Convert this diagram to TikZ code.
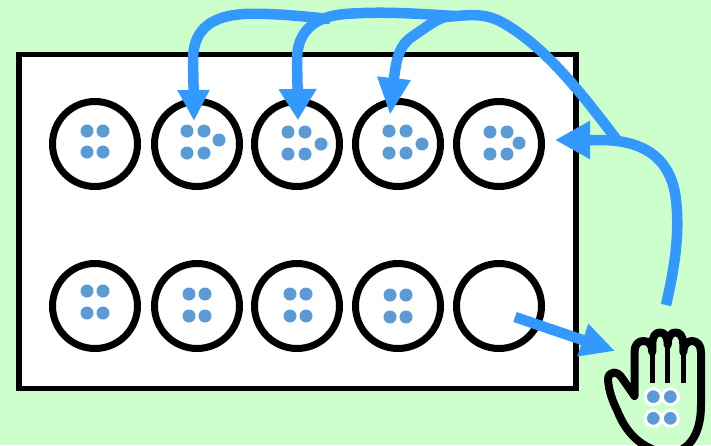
\documentclass[tikz,border=0pt]{standalone}
\usetikzlibrary{arrows.meta}
\definecolor{bggreen}{HTML}{CCFFCC}
\definecolor{flow}{HTML}{3399FF}
\definecolor{seed}{HTML}{5B9BD5}
\tikzset{
  pit/.style={circle,draw=black,fill=white,line width=7pt,inner sep=0pt,outer sep=0pt,minimum size=85pt},
  seedball/.style={circle,fill=seed,inner sep=0pt,outer sep=0pt,minimum size=13pt},
  handseed/.style={circle,fill=seed,draw=white,line width=3pt,inner sep=0pt,outer sep=0pt,minimum size=16pt},
  flowline/.style={draw=flow,line width=10.5pt},
  handline/.style={draw=black,line width=8pt,line join=round},
}
\begin{document}
\begin{tikzpicture}[x=1pt,y=-1pt]
\useasboundingbox (0,0) rectangle (711,445);
\fill[bggreen] (0,0) rectangle (711,445);
\node[draw=black,fill=white,line width=5.5pt,inner sep=0pt,outer sep=0pt,minimum width=557pt,minimum height=334pt] (board) at (297.5,221.5) {};
% pits
\foreach \n/\x in {1/95,2/197,3/297,4/398,5/499}{
  \node[pit] (t\n) at (\x,144) {};
  \node[pit] (b\n) at (\x,306) {};
}
% seeds, top row
\foreach \n/\x/\y in {a/87/131,b/103/131,c/87/152,d/103/152,
  e/187/131,f/204/131,g/187/153,h/204/153,i/219/140,
  j/288/132,k/305/132,l/288/154,m/305/154,o/321/144,
  p/389/131,q/406/131,r/389/153,s/406/153,u/422/144,
  v/490/132,w/507/132,x/490/154,y/507/154,z/519/143}{
  \node[seedball] (st\n) at (\x,\y) {};
}
% seeds, bottom row
\foreach \n/\x/\y in {a/87/291,b/103/291,c/87/313,d/103/313,
  e/189/294,f/205/294,g/189/316,h/205/316,
  j/290/294,k/306/294,l/290/316,m/306/316,
  p/390/295,q/406/295,r/390/317,s/406/317}{
  \node[seedball] (sb\n) at (\x,\y) {};
}
% hand
\draw[handline]
  (634.5,396) -- (622,378) .. controls (618,371) and (608,370) .. (608,380)
  .. controls (609,392) and (613,402) .. (617,410)
  .. controls (624,428) and (636,445) .. (660,452)
  -- (675,452) .. controls (692,448) and (701,430) .. (701,405)
  -- (701,352) .. controls (701,345) and (697,341) .. (692,341)
  .. controls (687,341) and (683.3,345) .. (683.3,352)
  -- (683.3,345) .. controls (683.3,336) and (680,332.5) .. (675.5,332.5)
  .. controls (671,332.5) and (667.7,336) .. (667.7,345)
  .. controls (667.7,336) and (664.5,332.5) .. (660,332.5)
  .. controls (655.5,332.5) and (652.3,336) .. (652.3,345)
  -- (652.3,352) .. controls (652.3,345) and (649,341) .. (643.4,341)
  .. controls (638,341) and (634.5,345) .. (634.5,352) -- cycle;
\draw[black,line width=5.5pt] (652.3,348) -- (652.3,383);
\draw[black,line width=5.5pt] (667.7,342) -- (667.7,383);
\draw[black,line width=5.5pt] (683.3,348) -- (683.3,383);
\node[handseed] (ha) at (653.3,396.7) {};
\node[handseed] (hb) at (670.3,396.7) {};
\node[handseed] (hc) at (653.3,418.3) {};
\node[handseed] (hd) at (670.3,418.3) {};
% connector end points
\coordinate (sowstart) at (666,305);
\coordinate (sowtip) at (555,140);
\coordinate (fork) at (617,140);
\coordinate (tip4) at (390,115);
\coordinate (tip3) at (298,120);
\coordinate (tip2) at (194,121);
\coordinate (pickstart) at (515,317);
\coordinate (picktip) at (615,351);
% connectors
\draw[flowline,-{Triangle[length=35pt,width=36pt]}] (sowstart)
  .. controls (674,270) and (680,235) .. (676,200)
  .. controls (671,155) and (640,140) .. (600,140) -- (sowtip);
\draw[flowline,-{Triangle[length=37pt,width=31pt]}] (fork)
  .. controls (590,105) and (550,50) .. (505,24)
  .. controls (485,12) and (470,15) .. (445,17)
  .. controls (435,20) and (425,28) .. (413,36)
  .. controls (400,45) and (397,55) .. (394,78) -- (tip4);
\draw[flowline,-{Triangle[length=31pt,width=36pt]}] (455,16)
  .. controls (420,14) and (385,11) .. (345,14)
  .. controls (310,17) and (297,35) .. (297,60)
  -- (297.5,85) -- (tip3);
\draw[flowline,-{Triangle[length=31pt,width=30pt]}] (330,19)
  .. controls (300,16) and (270,13) .. (245,14)
  .. controls (205,16) and (193,35) .. (193,60)
  -- (193.5,85) -- (tip2);
\draw[flowline,-{Triangle[length=34pt,width=32pt]}] (pickstart) -- (picktip);
\end{tikzpicture}
\end{document}
